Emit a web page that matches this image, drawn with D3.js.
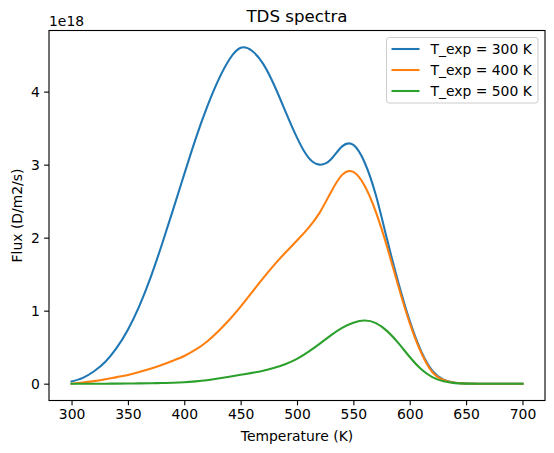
<!DOCTYPE html>
<html>
<head>
<meta charset="utf-8">
<script src="https://cdn.jsdelivr.net/npm/d3@7"></script>
<style>
  body { margin: 0; background: #fff; }
  text { font-family: "DejaVu Sans", sans-serif; fill: #000; }
</style>
</head>
<body>
<svg id="chart" width="554" height="453"></svg>
<script>
// Data (flux in units of 1e18 D/m2/s)
const temperatures = [300,310,320,330,340,350,360,370,380,390,400,410,420,430,440,450,460,470,480,490,500,510,520,530,540,550,560,570,580,590,600,610,620,630,640,650,660,670,680,690,700];
const flux300 = [0.03,0.08,0.17,0.30,0.49,0.74,1.06,1.45,1.90,2.38,2.87,3.35,3.78,4.15,4.44,4.60,4.56,4.38,4.08,3.72,3.37,3.10,3.00,3.07,3.25,3.27,3.03,2.58,1.97,1.38,0.86,0.45,0.18,0.055,0.012,0.002,0,0,0,0,0];
const flux400 = [0.0,0.015,0.035,0.06,0.09,0.12,0.16,0.205,0.255,0.315,0.38,0.465,0.575,0.715,0.875,1.055,1.25,1.445,1.63,1.80,1.96,2.13,2.34,2.62,2.86,2.90,2.71,2.35,1.87,1.33,0.83,0.43,0.16,0.05,0.012,0.002,0,0,0,0,0];
const flux500 = [0,0,0,0,0.001,0.002,0.004,0.006,0.009,0.013,0.02,0.032,0.048,0.07,0.095,0.122,0.148,0.178,0.217,0.27,0.34,0.435,0.545,0.662,0.765,0.835,0.865,0.83,0.72,0.555,0.365,0.20,0.09,0.032,0.008,0.001,0,0,0,0,0];
const seriesNames = ["T_exp = 300 K","T_exp = 400 K","T_exp = 500 K"];
const seriesColors = ["#1f77b4","#ff7f0e","#2ca02c"];
const xTicks = [300,350,400,450,500,550,600,650,700];
const yTicks = [0,1,2,3,4];
const offsetText = "1e18";
const titleText = "TDS spectra";
const xLabel = "Temperature (K)";
const yLabel = "Flux (D/m2/s)";

const series = [flux300, flux400, flux500];

const L = 49, R = 545, T = 30.5, B = 400.5;
const svg = d3.select("#chart");

const x = d3.scaleLinear().domain([280, 720]).range([L, R]);
const yMax = 4.607;
const yPad = 0.05 * yMax;
const y = d3.scaleLinear().domain([-yPad, yMax + yPad]).range([B, T]);

// Lines
const line = d3.line()
  .x((d, i) => x(temperatures[i]))
  .y(d => y(d))
  .curve(d3.curveNatural);

const plot = svg.append("g");
series.forEach((s, k) => {
  plot.append("path")
    .attr("d", line(s))
    .attr("fill", "none")
    .attr("stroke", seriesColors[k])
    .attr("stroke-width", 2.08)
    .attr("stroke-linejoin", "round")
    .attr("stroke-linecap", "square");
});

// Axes
const xAxis = d3.axisBottom(x).tickValues(xTicks).tickSize(4.86).tickPadding(4.2).tickFormat(d3.format("d"));
const yAxis = d3.axisLeft(y).tickValues(yTicks).tickSize(4.86).tickPadding(4.2).tickFormat(d3.format("d"));

const gx = svg.append("g").attr("transform", `translate(0,${B})`).call(xAxis);
const gy = svg.append("g").attr("transform", `translate(${L},0)`).call(yAxis);
[gx, gy].forEach(g => {
  g.select(".domain").remove();
  g.selectAll(".tick line").attr("stroke", "#000").attr("stroke-width", 1.11);
  g.selectAll(".tick text").attr("font-size", "13.9px").attr("font-family", "DejaVu Sans").attr("fill", "#000");
});

// Spines
svg.append("rect")
  .attr("x", L).attr("y", T).attr("width", R - L).attr("height", B - T)
  .attr("fill", "none").attr("stroke", "#000").attr("stroke-width", 1.11);

// Title & labels
svg.append("text").attr("x", (L + R) / 2).attr("y", 22).attr("text-anchor", "middle")
  .attr("font-size", "16.67px").text(titleText);
svg.append("text").attr("x", L).attr("y", 26).attr("font-size", "13.9px").text(offsetText);
svg.append("text").attr("x", (L + R) / 2).attr("y", 441).attr("text-anchor", "middle")
  .attr("font-size", "13.9px").text(xLabel);
svg.append("text").attr("transform", `translate(22,${(T + B) / 2}) rotate(-90)`).attr("text-anchor", "middle")
  .attr("font-size", "13.9px").text(yLabel);

// Legend
const lg = svg.append("g");
lg.append("rect").attr("x", 386.5).attr("y", 37.5).attr("width", 151.5).attr("height", 65.5)
  .attr("rx", 2.8).attr("fill", "#fff").attr("fill-opacity", 0.8)
  .attr("stroke", "#cccccc").attr("stroke-width", 1);
seriesNames.forEach((name, k) => {
  const cy = 49 + k * 21;
  lg.append("line").attr("x1", 391.5).attr("x2", 419.5).attr("y1", cy).attr("y2", cy)
    .attr("stroke", seriesColors[k]).attr("stroke-width", 2.08);
  lg.append("text").attr("x", 430.5).attr("y", cy + 5).attr("font-size", "13.9px").text(name);
});
</script>
</body>
</html>
